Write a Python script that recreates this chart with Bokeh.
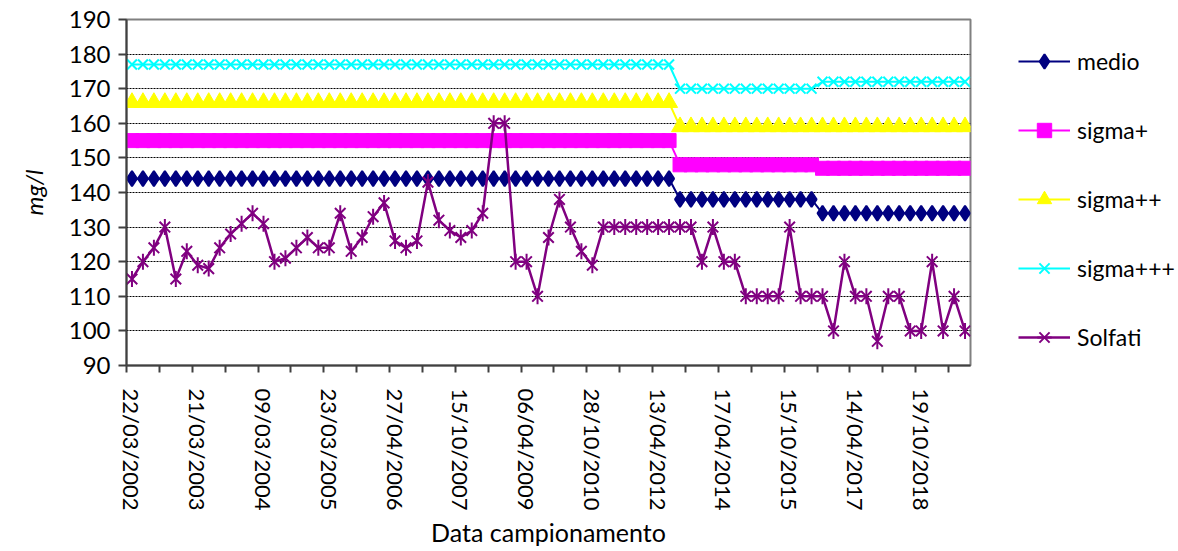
import numpy as np
from bokeh.plotting import figure
from bokeh.layouts import row
from bokeh.models import (Range1d, FixedTicker, Legend, LegendItem)
from bokeh.embed import file_html
from bokeh.resources import INLINE

# ---- data ----
tick_labels = ["22/03/2002", "21/03/2003", "09/03/2004", "23/03/2005", "27/04/2006",
               "15/10/2007", "06/04/2009", "28/10/2010", "13/04/2012", "17/04/2014",
               "15/10/2015", "14/04/2017", "19/10/2018"]
tick_index = [0, 6, 12, 18, 24, 30, 36, 42, 48, 54, 60, 66, 72]
n_samples = 77
x_index = list(range(n_samples))

medio = [144, 144, 144, 144, 144, 144, 144, 144, 144, 144,
         144, 144, 144, 144, 144, 144, 144, 144, 144, 144,
         144, 144, 144, 144, 144, 144, 144, 144, 144, 144,
         144, 144, 144, 144, 144, 144, 144, 144, 144, 144,
         144, 144, 144, 144, 144, 144, 144, 144, 144, 144,
         138, 138, 138, 138, 138, 138, 138, 138, 138, 138,
         138, 138, 138, 134, 134, 134, 134, 134, 134, 134,
         134, 134, 134, 134, 134, 134, 134]
sigma_p = [155, 155, 155, 155, 155, 155, 155, 155, 155, 155,
           155, 155, 155, 155, 155, 155, 155, 155, 155, 155,
           155, 155, 155, 155, 155, 155, 155, 155, 155, 155,
           155, 155, 155, 155, 155, 155, 155, 155, 155, 155,
           155, 155, 155, 155, 155, 155, 155, 155, 155, 155,
           148, 148, 148, 148, 148, 148, 148, 148, 148, 148,
           148, 148, 148, 147, 147, 147, 147, 147, 147, 147,
           147, 147, 147, 147, 147, 147, 147]
sigma_pp = [166, 166, 166, 166, 166, 166, 166, 166, 166, 166,
            166, 166, 166, 166, 166, 166, 166, 166, 166, 166,
            166, 166, 166, 166, 166, 166, 166, 166, 166, 166,
            166, 166, 166, 166, 166, 166, 166, 166, 166, 166,
            166, 166, 166, 166, 166, 166, 166, 166, 166, 166,
            159, 159, 159, 159, 159, 159, 159, 159, 159, 159,
            159, 159, 159, 159, 159, 159, 159, 159, 159, 159,
            159, 159, 159, 159, 159, 159, 159]
sigma_ppp = [177, 177, 177, 177, 177, 177, 177, 177, 177, 177,
             177, 177, 177, 177, 177, 177, 177, 177, 177, 177,
             177, 177, 177, 177, 177, 177, 177, 177, 177, 177,
             177, 177, 177, 177, 177, 177, 177, 177, 177, 177,
             177, 177, 177, 177, 177, 177, 177, 177, 177, 177,
             170, 170, 170, 170, 170, 170, 170, 170, 170, 170,
             170, 170, 170, 172, 172, 172, 172, 172, 172, 172,
             172, 172, 172, 172, 172, 172, 172]
solfati = [115, 120, 124, 130, 115, 123, 119, 118, 124, 128,
           131, 134, 131, 120, 121, 124, 127, 124, 124, 134,
           123, 127, 133, 137, 126, 124, 126, 143, 132, 129,
           127, 129, 134, 160, 160, 120, 120, 110, 127, 138,
           130, 123, 119, 130, 130, 130, 130, 130, 130, 130,
           130, 130, 120, 130, 120, 120, 110, 110, 110, 110,
           130, 110, 110, 110, 100, 120, 110, 110, 97, 110,
           110, 100, 100, 120, 100, 110, 100]
y_ticks = [90, 100, 110, 120, 130, 140, 150, 160, 170, 180, 190]

series_names = ["medio", "sigma+", "sigma++", "sigma+++", "Solfati"]

FONT = "Lato"
FS = "24px"

p = figure(width=1010, height=551, output_backend="svg", toolbar_location=None,
           x_range=Range1d(-0.5, n_samples - 0.5), y_range=Range1d(90, 190),
           min_border_left=126, min_border_right=40, min_border_top=19,
           min_border_bottom=186)
p.background_fill_color = "white"
p.border_fill_color = "white"
p.outline_line_color = "#808080"
p.outline_line_width = 2

# grid
p.xgrid.grid_line_color = None
p.ygrid.ticker = FixedTicker(ticks=y_ticks)
p.ygrid.grid_line_color = "black"
p.ygrid.grid_line_dash = "2 1"
p.ygrid.grid_line_width = 1

# y axis
ya = p.yaxis[0]
ya.ticker = FixedTicker(ticks=y_ticks)
ya.axis_line_color = "#404040"
ya.axis_line_width = 2
ya.major_tick_line_color = "#404040"
ya.major_tick_line_width = 2
ya.major_tick_out = 8
ya.major_tick_in = 0
ya.minor_tick_line_color = None
ya.major_label_text_font = FONT
ya.major_label_text_font_size = FS
ya.major_label_text_color = "black"
ya.major_label_standoff = 8
ya.axis_label = "mg/l"
ya.axis_label_text_font = FONT
ya.axis_label_text_font_size = FS
ya.axis_label_text_font_style = "italic"
ya.axis_label_text_color = "black"
ya.axis_label_standoff = 18

# x axis
xa = p.xaxis[0]
minor_pos = [-0.5 + 3 * k for k in range(26)]
xa.ticker = FixedTicker(ticks=tick_index, minor_ticks=minor_pos)
xa.major_label_overrides = {i: lab for i, lab in zip(tick_index, tick_labels)}
xa.major_label_orientation = "vertical"
xa.axis_line_color = "#404040"
xa.axis_line_width = 2
xa.major_tick_out = 0
xa.major_tick_in = 0
xa.major_tick_line_color = None
xa.minor_tick_line_color = "#404040"
xa.minor_tick_line_width = 2
xa.minor_tick_out = 7
xa.minor_tick_in = 0
xa.major_label_text_font = FONT
xa.major_label_text_font_size = "22px"
xa.major_label_text_color = "black"
xa.major_label_standoff = 16
xa.axis_label = "Data campionamento"
xa.axis_label_text_font = FONT
xa.axis_label_text_font_size = "25px"
xa.axis_label_text_font_style = "normal"
xa.axis_label_text_color = "black"
xa.axis_label_standoff = 4

# series styles
styles = [
    dict(y=medio, color="#000080", lw=2, markers=[dict(marker="diamond", size=15, line_width=2, fill=True)]),
    dict(y=sigma_p, color="#FF00FF", lw=2, markers=[dict(marker="square", size=14, line_width=1, fill=True)]),
    dict(y=sigma_pp, color="#FFFF00", lw=2, markers=[dict(marker="triangle", size=17, line_width=1, fill=True)]),
    dict(y=sigma_ppp, color="#00FFFF", lw=2, markers=[dict(marker="x", size=14, line_width=2, fill=False)]),
    dict(y=solfati, color="#800080", lw=2.5, markers=[dict(marker="x", size=15, line_width=2, fill=False),
                                                     dict(marker="dash", size=16, line_width=2, fill=False,
                                                          angle=np.pi / 2)]),
]


def draw(fig, st):
    rs = [fig.line(x_index, st["y"], line_color=st["color"], line_width=st["lw"])]
    for m in st["markers"]:
        rs.append(fig.scatter(x_index, st["y"], marker=m["marker"], size=m["size"],
                              angle=m.get("angle", 0.0),
                              fill_color=st["color"] if m["fill"] else None,
                              line_color=st["color"], line_width=m["line_width"]))
    return rs


for st in styles:
    draw(p, st)

# ---- legend panel (separate figure to the right, frame aligned with p) ----
q = figure(width=168, height=551, output_backend="svg", toolbar_location=None,
           x_range=Range1d(1000, 1001), y_range=Range1d(90, 190),
           min_border_left=0, min_border_right=0, min_border_top=19, min_border_bottom=186,
           x_axis_location=None, y_axis_location=None)
q.outline_line_color = None
q.xgrid.grid_line_color = None
q.ygrid.grid_line_color = None
q.background_fill_color = "white"
q.border_fill_color = "white"

items = []
for name, st in zip(series_names, styles):
    rs = draw(q, st)
    items.append(LegendItem(label=name, renderers=rs))

legend = Legend(items=items, location=(8, 10))
legend.border_line_color = None
legend.background_fill_color = None
legend.background_fill_alpha = 0
legend.padding = 0
legend.margin = 0
legend.spacing = 33
legend.glyph_width = 52
legend.glyph_height = 36
legend.label_height = 36
legend.label_standoff = 7
legend.label_text_font = FONT
legend.label_text_font_size = "23px"
legend.label_text_color = "black"
q.add_layout(legend, "center")

layout = row(p, q)
open("out.html", "w").write(file_html(layout, INLINE))
